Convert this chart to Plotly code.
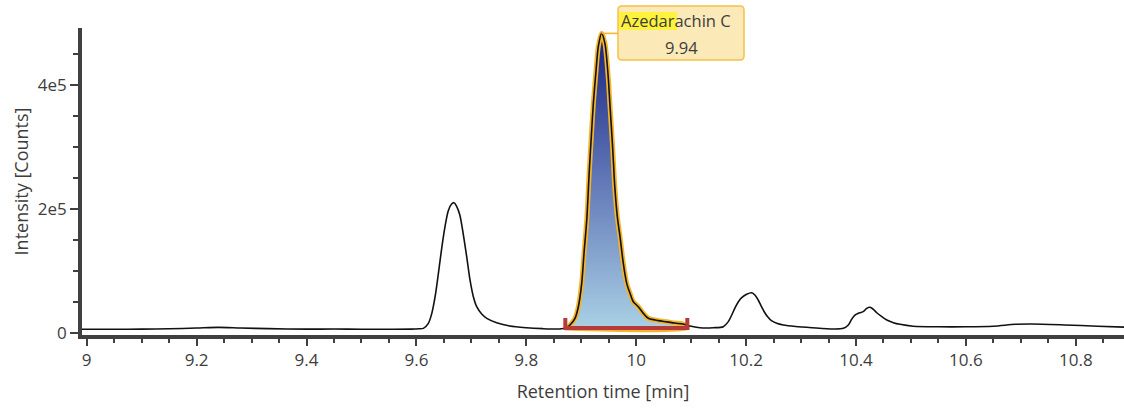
import plotly.graph_objects as go

# Chromatogram trace: retention time [min] and intensity [counts]
rt = [8.991, 9.05, 9.10, 9.15, 9.20, 9.24, 9.28, 9.33, 9.40, 9.45, 9.50, 9.55, 9.59, 9.605,
      9.6126, 9.6217, 9.628, 9.634, 9.640, 9.646, 9.652, 9.658, 9.664, 9.6685, 9.673,
      9.679, 9.685, 9.6915, 9.6975, 9.7036, 9.7097, 9.7188, 9.728, 9.746, 9.770,
      9.80, 9.83, 9.86, 9.872, 9.8795, 9.8886, 9.8947, 9.9008, 9.905, 9.910, 9.9147, 9.919,
      9.922, 9.927, 9.931, 9.937, 9.943, 9.949, 9.952, 9.957, 9.961, 9.9656, 9.9705,
      9.9765, 9.9827, 9.9887, 9.9947, 10.0038, 10.013, 10.022, 10.04, 10.056, 10.07,
      10.085, 10.10, 10.116, 10.14, 10.1585, 10.1676, 10.1738, 10.180, 10.186, 10.192,
      10.201, 10.210, 10.216, 10.222, 10.228, 10.234, 10.240, 10.246, 10.2557, 10.2677,
      10.29, 10.32, 10.358, 10.377, 10.386, 10.392, 10.398, 10.404, 10.413, 10.4195,
      10.4255, 10.4315, 10.4377, 10.447, 10.456, 10.468, 10.480, 10.504, 10.55, 10.60,
      10.65, 10.69, 10.72, 10.78, 10.84, 10.888]
intensity = [6000, 6000, 6200, 6800, 8000, 9000, 8000, 7000, 6200, 6500, 6000, 6000, 6200, 6800,
             7500, 15600, 31700, 58500, 96300, 136600, 171500, 197300, 208000, 210200, 204800,
             190300, 160800, 123000, 85500, 58500, 42400, 30600, 23700, 16700, 11300,
             8500, 7000, 6500, 8000, 12900, 23700, 42400, 80100, 128500, 182300, 262900, 327400,
             370400, 424200, 461800, 483300, 467200, 413400, 370400, 300500, 236000, 187600, 155300,
             112400, 80100, 64000, 50500, 42400, 31700, 23700, 20000, 18000, 16000,
             14500, 11000, 8500, 8500, 10200, 18300, 29000, 41000, 50500, 57000,
             62500, 65000, 61300, 53200, 42400, 32700, 25300, 19800, 15600, 12900,
             10500, 8500, 6500, 7500, 12900, 22100, 29000, 31700, 34400, 39800,
             41400, 38200, 32700, 26300, 21000, 16700, 14000, 11000, 10000, 10000,
             11000, 14000, 14500, 13000, 11000, 9500]

# Integrated peak
peak_name = "Azedarachin C"
peak_rt = 9.94
peak_apex = (9.937, 483300)
integration_start = 9.871
integration_end = 10.093
integration_baseline = 8000
integration_marker = 24000

# Axis ticks
x_ticks = [9.0, 9.2, 9.4, 9.6, 9.8, 10.0, 10.2, 10.4, 10.6, 10.8]
x_tick_text = ["9", "9.2", "9.4", "9.6", "9.8", "10", "10.2", "10.4", "10.6", "10.8"]
y_ticks = [0, 200000, 400000]
y_tick_text = ["0", "2e5", "4e5"]

# Canvas geometry (px)
W, H = 1124, 410
ML, MR, MT, MB = 82, 0, 28, 75
X_RANGE = [8.9914, 10.8877]
Y_RANGE = [-3226, 491935]
PW, PH = W - ML - MR, H - MT - MB


def px_to_paper(px, py):
    return (px - ML) / PW, (H - MB - py) / PH


def data_to_px(x, y):
    px = ML + (x - X_RANGE[0]) / (X_RANGE[1] - X_RANGE[0]) * PW
    py = MT + (Y_RANGE[1] - y) / (Y_RANGE[1] - Y_RANGE[0]) * PH
    return px, py


INK = "#3d3d3d"
AXIS = "#404040"
ORANGE = "#f4b52c"
RED = "#b63a3a"
FONT = "Open Sans, Noto Sans, sans-serif"

# Peak area polygon within the integration window
seg = [(t, v) for t, v in zip(rt, intensity) if integration_start < t < integration_end]
area_x = [integration_start] + [t for t, _ in seg] + [integration_end, integration_start]
area_y = [integration_baseline] + [v for _, v in seg] + [integration_baseline, integration_baseline]

fig = go.Figure()

fig.add_trace(go.Scatter(
    x=area_x, y=area_y, mode="lines", fill="toself",
    line=dict(color=ORANGE, width=5, shape="spline", smoothing=0.8),
    fillgradient=dict(type="vertical",
                      colorscale=[[0, "#a9d0e5"], [0.5, "#6278b7"], [1, "#18227f"]],
                      start=integration_baseline, stop=peak_apex[1]),
    hoverinfo="skip", showlegend=False,
))

fig.add_trace(go.Scatter(
    x=rt, y=intensity, mode="lines",
    line=dict(color="#111111", width=1.6, shape="spline", smoothing=0.8),
    showlegend=False,
))

# Integration baseline bracket
fig.add_trace(go.Scatter(
    x=[integration_start, integration_start, integration_end, integration_end],
    y=[integration_marker, integration_baseline, integration_baseline, integration_marker],
    mode="lines", line=dict(color=RED, width=4),
    hoverinfo="skip", showlegend=False,
))

# Peak label box
box_l, box_r, box_t, box_b = 618, 744, 6, 60
apx, apy = data_to_px(*peak_apex)
x0, y0 = px_to_paper(box_l, box_b)
x1, y1 = px_to_paper(box_r, box_t)
r = 4
rx, ry = r / PW, r / PH
path = (f"M {x0 + rx},{y1} L {x1 - rx},{y1} Q {x1},{y1} {x1},{y1 - ry} "
        f"L {x1},{y0 + ry} Q {x1},{y0} {x1 - rx},{y0} L {x0 + rx},{y0} "
        f"Q {x0},{y0} {x0},{y0 + ry} L {x0},{y1 - ry} Q {x0},{y1} {x0 + rx},{y1} Z")
shapes = [
    dict(type="path", xref="paper", yref="paper", path=path,
         fillcolor="#fbe9b8", line=dict(color="#f5c04c", width=1.5), layer="above"),
]

# connector from apex to box
cx0, cy = px_to_paper(apx, apy)
cx1, _ = px_to_paper(box_l, apy)
shapes.append(dict(type="line", xref="paper", yref="paper", x0=cx0, x1=cx1, y0=cy, y1=cy,
                   line=dict(color=ORANGE, width=1.5), layer="above"))

# highlighted part of the compound name
hx0, hy0 = px_to_paper(619, 30)
hx1, hy1 = px_to_paper(677, 12)
shapes.append(dict(type="rect", xref="paper", yref="paper", x0=hx0, x1=hx1, y0=hy0, y1=hy1,
                   fillcolor="#fff23c", line=dict(width=0), layer="above"))

tx, ty1 = px_to_paper(680, 21)
tx2, ty2 = px_to_paper(681, 47)
annotations = [
    dict(text=peak_name, xref="paper", yref="paper", x=tx, y=ty1, showarrow=False,
         xanchor="center", yanchor="middle", font=dict(family=FONT, size=16.5, color=INK)),
    dict(text=f"{peak_rt:.2f}", xref="paper", yref="paper", x=tx2, y=ty2, showarrow=False,
         xanchor="center", yanchor="middle", font=dict(family=FONT, size=16.5, color=INK)),
]
# start the name at the left of the highlight
annotations[0].update(x=px_to_paper(619, 21)[0], xanchor="left")

fig.update_layout(
    width=W, height=H,
    margin=dict(l=ML, r=MR, t=MT, b=MB),
    paper_bgcolor="white", plot_bgcolor="white",
    font=dict(family=FONT, size=17, color=INK),
    shapes=shapes, annotations=annotations,
    showlegend=False,
)

fig.update_xaxes(
    range=X_RANGE, tickvals=x_ticks, ticktext=x_tick_text,
    showgrid=False, zeroline=False,
    showline=True, linecolor=AXIS, linewidth=3.5,
    ticks="outside", ticklen=7, tickwidth=1.5, tickcolor=AXIS,
    minor=dict(dtick=0.05, tick0=9.0, ticks="outside", ticklen=4, tickwidth=1.5, tickcolor=AXIS),
    tickfont=dict(size=17, color=INK),
    title=dict(text="Retention time [min]", font=dict(size=18, color=INK), standoff=16),
)
fig.update_yaxes(
    range=Y_RANGE, tickvals=y_ticks, ticktext=y_tick_text,
    showgrid=False, zeroline=False,
    showline=True, linecolor=AXIS, linewidth=3.5,
    ticks="outside", ticklen=8, tickwidth=1.5, tickcolor=AXIS,
    minor=dict(dtick=50000, tick0=0, ticks="outside", ticklen=5, tickwidth=1.5, tickcolor=AXIS),
    tickfont=dict(size=17, color=INK),
    title=dict(text="Intensity [Counts]", font=dict(size=18, color=INK), standoff=6),
)

fig.write_html("out.html")
